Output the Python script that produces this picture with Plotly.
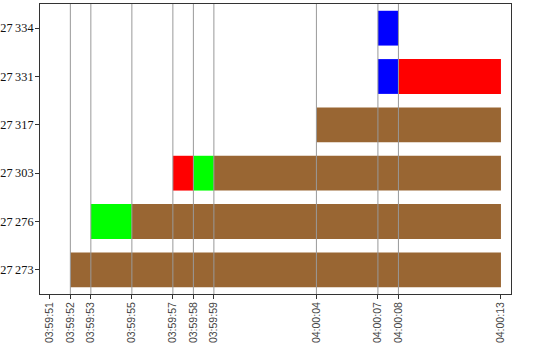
import plotly.graph_objects as go
import pandas as pd

DAY = "2000-01-01 "

categories = ["27273", "27276", "27303", "27317", "27331", "27334"]
category_labels = ["27\u2009273", "27\u2009276", "27\u2009303", "27\u2009317", "27\u2009331", "27\u2009334"]

seg_rows = ["27273", "27276", "27276", "27303", "27303", "27303", "27317", "27331", "27331", "27334"]
seg_start = ["03:59:52", "03:59:53", "03:59:55", "03:59:57", "03:59:58", "03:59:59", "04:00:04", "04:00:07", "04:00:08", "04:00:07"]
seg_end = ["04:00:13", "03:59:55", "04:00:13", "03:59:58", "03:59:59", "04:00:13", "04:00:13", "04:00:08", "04:00:13", "04:00:08"]
seg_state = ["brown", "green", "brown", "red", "green", "brown", "brown", "blue", "red", "blue"]

state_colors = {"brown": "#996633", "green": "#00ff00", "red": "#ff0000", "blue": "#0000ff"}

tick_times = ["03:59:51", "03:59:52", "03:59:53", "03:59:55", "03:59:57", "03:59:58",
              "03:59:59", "04:00:04", "04:00:07", "04:00:08", "04:00:13"]
grid_times = tick_times[1:-1]

starts = pd.to_datetime([DAY + t for t in seg_start])
ends = pd.to_datetime([DAY + t for t in seg_end])
durations_ms = [(e - s).total_seconds() * 1000 for s, e in zip(starts, ends)]

fig = go.Figure()
for i in range(len(seg_rows)):
    fig.add_trace(go.Bar(
        y=[seg_rows[i]],
        x=[durations_ms[i]],
        base=[starts[i].strftime("%Y-%m-%d %H:%M:%S")],
        orientation="h",
        marker=dict(color=state_colors[seg_state[i]], line=dict(width=0)),
        showlegend=False,
        hoverinfo="skip",
    ))

for t in grid_times:
    fig.add_shape(type="line", xref="x", yref="paper",
                  x0=DAY + t, x1=DAY + t, y0=0, y1=1,
                  line=dict(color="#999999", width=1), layer="above")

x_lo = pd.Timestamp(DAY + tick_times[0]) - pd.Timedelta(milliseconds=480)
x_hi = pd.Timestamp(DAY + tick_times[-1]) + pd.Timedelta(milliseconds=490)

fig.update_layout(
    width=540, height=343,
    margin=dict(l=40, r=29, t=4, b=49),
    plot_bgcolor="white", paper_bgcolor="white",
    barmode="overlay", bargap=0.28,
    xaxis=dict(
        type="date",
        automargin=False,
        range=[x_lo.strftime("%Y-%m-%d %H:%M:%S.%f"), x_hi.strftime("%Y-%m-%d %H:%M:%S.%f")],
        tickmode="array",
        tickvals=[DAY + t for t in tick_times],
        ticktext=tick_times,
        tickangle=-90,
        ticks="outside", ticklen=4, tickcolor="#333333",
        ticklabelstandoff=-1,
        tickfont=dict(family="Liberation Sans", size=10.5, color="#444444"),
        showgrid=False, zeroline=False,
        showline=True, linecolor="#333333", linewidth=1, mirror=True,
    ),
    yaxis=dict(
        type="category",
        automargin=False,
        categoryorder="array", categoryarray=categories,
        tickmode="array", tickvals=categories, ticktext=category_labels,
        range=[-0.5, 5.5],
        ticks="outside", ticklen=4, tickcolor="#333333",
        ticklabelstandoff=-1,
        tickfont=dict(family="Liberation Serif", size=12.3, color="#111111"),
        showgrid=False, zeroline=False,
        showline=True, linecolor="#333333", linewidth=1, mirror=True,
    ),
)

fig.write_html("out.html")
